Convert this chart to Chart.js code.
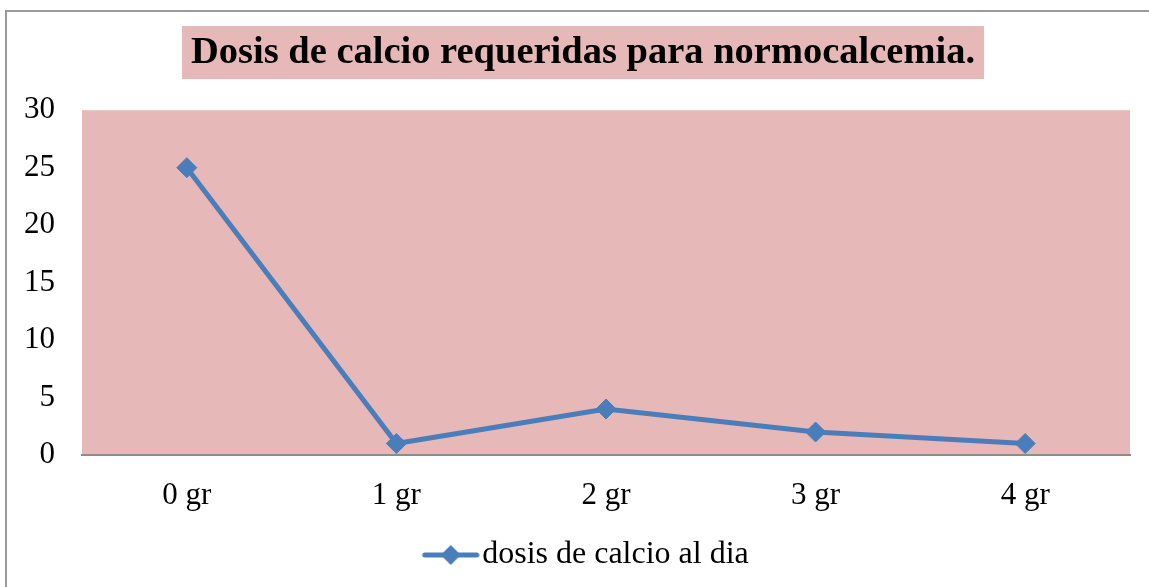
<!DOCTYPE html>
<html>
<head>
<meta charset="utf-8">
<script src="https://cdn.jsdelivr.net/npm/chart.js@4/dist/chart.umd.min.js"></script>
<style>
  html, body { margin: 0; padding: 0; background: #fff; }
  #wrap { position: relative; width: 1149px; height: 587px; overflow: hidden; }
  #frame { position: absolute; left: 5px; top: 10px; width: 1200px; height: 700px;
           border-left: 2px solid #9a9a9a; border-top: 2px solid #9a9a9a; }
  canvas { position: absolute; left: 0; top: 0; }
</style>
</head>
<body>
<div id="wrap">
  <div id="frame"></div>
  <canvas id="chart" width="1149" height="587"></canvas>
</div>
<script>
// datos
const categorias = ['0 gr', '1 gr', '2 gr', '3 gr', '4 gr'];
const dosis = [25, 1, 4, 2, 1];
const yTicks = [0, 5, 10, 15, 20, 25, 30];
const tituloTexto = 'Dosis de calcio requeridas para normocalcemia.';
const serieNombre = 'dosis de calcio al dia';

const PINK = '#E6B8B7';
const BLUE = '#4A7EBB';
const SERIF = "'Liberation Serif', 'Times New Roman', serif";

// icono de leyenda: linea con rombo (con margen transparente a la izquierda)
function legendIcon() {
  const c = document.createElement('canvas');
  c.width = 76; c.height = 22;
  const g = c.getContext('2d');
  const o = 18;
  g.strokeStyle = BLUE;
  g.lineWidth = 5;
  g.lineCap = 'round';
  g.beginPath(); g.moveTo(o + 3, 11); g.lineTo(o + 55, 11); g.stroke();
  g.fillStyle = BLUE;
  g.beginPath();
  g.moveTo(o + 29, 1); g.lineTo(o + 39, 11); g.lineTo(o + 29, 21); g.lineTo(o + 19, 11);
  g.closePath(); g.fill();
  return c;
}

// fondo rosa del area de trazado y del titulo
const fondos = {
  id: 'fondos',
  beforeDraw(chart) {
    const ctx = chart.ctx;
    const a = chart.chartArea;
    ctx.save();
    ctx.fillStyle = PINK;
    ctx.fillRect(a.left, a.top, a.right - a.left, a.bottom - a.top);
    const t = chart.titleBlock;
    if (t) {
      ctx.font = 'bold 38.5px ' + SERIF;
      const w = ctx.measureText(tituloTexto).width;
      const cx = (t.left + t.right) / 2;
      ctx.fillRect(cx - w / 2 - 9, 26, w + 18, 53);
    }
    ctx.restore();
  }
};

const ctx = document.getElementById('chart').getContext('2d');
new Chart(ctx, {
  type: 'line',
  data: {
    labels: categorias,
    datasets: [{
      label: serieNombre,
      data: dosis,
      borderColor: BLUE,
      backgroundColor: BLUE,
      borderWidth: 5,
      pointStyle: 'rectRot',
      pointRadius: 10,
      pointBorderWidth: 1,
      pointBackgroundColor: BLUE,
      pointBorderColor: BLUE,
      tension: 0,
    }],
  },
  options: {
    responsive: false,
    animation: false,
    events: [],
    layout: { padding: { left: 36, right: 19, top: 10, bottom: 6 } },
    scales: {
      x: {
        offset: true,
        grid: { display: false, drawTicks: false },
        border: { display: true, color: '#8c8c8c', width: 2 },
        ticks: { color: '#000', font: { family: SERIF, size: 31 }, padding: 22 },
        afterFit(s) { s.height = 74; },
      },
      y: {
        min: 0,
        max: 30,
        afterBuildTicks(s) { s.ticks = yTicks.map(v => ({ value: v })); },
        grid: { display: false, drawTicks: false },
        border: { display: false },
        ticks: { color: '#000', font: { family: SERIF, size: 31 }, padding: 27 },
        afterFit(s) {
          s.width = 46;
          s._computeLabelArea = () => undefined; // no recortar las etiquetas
        },
      },
    },
    plugins: {
      title: {
        display: true,
        text: tituloTexto,
        color: '#000',
        font: { family: SERIF, size: 38.5, weight: 'bold' },
        padding: { top: 20, bottom: 34 },
      },
      legend: {
        position: 'bottom',
        labels: {
          color: '#000',
          font: { family: SERIF, size: 32 },
          usePointStyle: true,
          pointStyleWidth: 49,
          padding: 10,
          generateLabels(chart) {
            return [{
              text: serieNombre,
              pointStyle: legendIcon(),
              fillStyle: BLUE,
              strokeStyle: BLUE,
              lineWidth: 0,
              datasetIndex: 0,
            }];
          },
        },
      },
      tooltip: { enabled: false },
    },
  },
  plugins: [fondos],
});
</script>
</body>
</html>
